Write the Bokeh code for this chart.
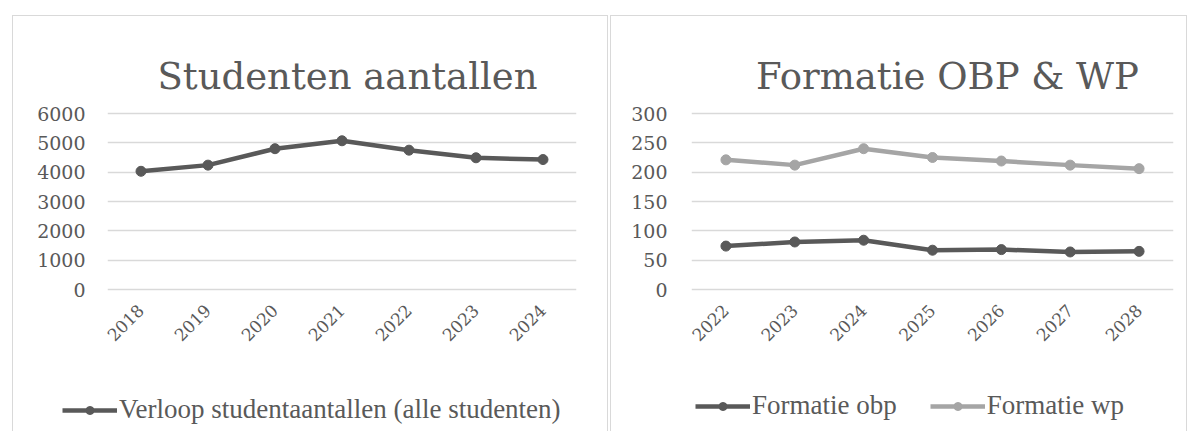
import math
from bokeh.plotting import figure
from bokeh.layouts import row, column
from bokeh.models import (Range1d, FactorRange, FixedTicker, Legend, LegendItem, Label)
from bokeh.embed import file_html
from bokeh.resources import INLINE

# ---- data ----
years_left = ["2018", "2019", "2020", "2021", "2022", "2023", "2024"]
studenten = [4030, 4240, 4800, 5070, 4750, 4490, 4430]
left_ticks = [0, 1000, 2000, 3000, 4000, 5000, 6000]

years_right = ["2022", "2023", "2024", "2025", "2026", "2027", "2028"]
formatie_obp = [74, 81, 84, 67, 68, 64, 65]
formatie_wp = [221, 212, 240, 225, 219, 212, 206]
right_ticks = [0, 50, 100, 150, 200, 250, 300]

DARK = "#595959"
LIGHT = "#a5a5a5"
GRID = "#d9d9d9"
TEXT = "#595959"
SERIF = "DejaVu Serif"
LEG_FONT = "Liberation Serif"

HEAD_H, MAIN_H, FOOT_H = 81, 262, 73


def blank_fig(width, height, y0=0):
    f = figure(width=width, height=height, x_range=Range1d(0, width),
               y_range=Range1d(y0, y0 + height), output_backend="svg",
               toolbar_location=None, x_axis_location=None, y_axis_location=None,
               min_border_left=0, min_border_right=0, min_border_top=0,
               min_border_bottom=0, frame_align=False)
    f.grid.visible = False
    f.outline_line_color = None
    return f


def head_fig(width, title, cx):
    h = blank_fig(width, HEAD_H)
    h.add_layout(Label(x=cx, y=21, text=title, text_align="center",
                       text_baseline="alphabetic", text_font=SERIF,
                       text_font_size="37px", text_color=TEXT))
    return h


def main_fig(width, factors, ymax, ticks, mb_left, mb_right, standoff):
    pad = ymax / 176 * 4
    p = figure(width=width, height=MAIN_H, x_range=FactorRange(*factors),
               y_range=Range1d(-pad, ymax + pad),
               output_backend="svg", toolbar_location=None,
               min_border_left=mb_left, min_border_right=mb_right,
               min_border_top=12, min_border_bottom=66, frame_align=False)
    p.outline_line_color = None
    p.xgrid.grid_line_color = None
    p.ygrid.grid_line_color = GRID
    p.ygrid.grid_line_width = 1.5
    p.yaxis.ticker = FixedTicker(ticks=ticks)
    for ax in (p.xaxis[0], p.yaxis[0]):
        ax.axis_line_color = None
        ax.major_tick_line_color = None
        ax.minor_tick_line_color = None
        ax.major_label_text_color = TEXT
        ax.major_label_text_font = SERIF
    p.yaxis.major_label_text_font_size = "19px"
    p.xaxis.major_label_text_font_size = "17px"
    p.xaxis.major_label_orientation = math.pi / 4
    p.xaxis.major_label_standoff = 8
    p.yaxis.major_label_standoff = standoff
    return p


def foot_fig(width, entries, lx, ly, spacing):
    # data range far below the series values, so the proxy renderers stay out of view
    f = blank_fig(width, FOOT_H, y0=-10000)
    items = []
    for label, color, vals in entries:
        xs = list(range(len(vals)))
        rl = f.line(xs, vals, line_color=color, line_width=4.5)
        rc = f.scatter(xs, vals, size=10, fill_color=color, line_color=color)
        items.append(LegendItem(label=label, renderers=[rl, rc]))
    leg = Legend(items=items, location=(lx, ly), orientation="horizontal",
                 glyph_width=55, glyph_height=20, label_standoff=2, spacing=spacing,
                 label_text_font=LEG_FONT, label_text_font_size="27px",
                 label_text_color=TEXT, padding=0, margin=0,
                 border_line_color=None, background_fill_alpha=0)
    f.add_layout(leg, "center")
    return f


BOX = {"border-top": f"1.5px solid {GRID}", "border-left": f"1.5px solid {GRID}",
       "border-right": f"1.5px solid {GRID}"}

# ---- left chart ----
W1 = 594
p1 = main_fig(W1, years_left, 6000, left_ticks, 94, 31, 16)
p1.line(years_left, studenten, line_color=DARK, line_width=4.5)
p1.scatter(years_left, studenten, size=10, fill_color=DARK, line_color=DARK)
c1 = column(head_fig(W1, "Studenten aantallen", 334), p1,
            foot_fig(W1, [("Verloop studentaantallen (alle studenten)", DARK, studenten)],
                     49, 7, 0),
            margin=(15, 0, 0, 12), styles=BOX)

# ---- right chart ----
W2 = 575
p2 = main_fig(W2, years_right, 300, right_ticks, 80, 13, 18)
p2.line(years_right, formatie_obp, line_color=DARK, line_width=4.5)
p2.scatter(years_right, formatie_obp, size=10, fill_color=DARK, line_color=DARK)
p2.line(years_right, formatie_wp, line_color=LIGHT, line_width=4.5)
p2.scatter(years_right, formatie_wp, size=10, fill_color=LIGHT, line_color=LIGHT)
c2 = column(head_fig(W2, "Formatie OBP & WP", 336), p2,
            foot_fig(W2, [("Formatie obp", DARK, formatie_obp),
                          ("Formatie wp", LIGHT, formatie_wp)], 84, 11, 33),
            margin=(15, 0, 0, 2), styles=BOX)

layout = row(c1, c2)
open("out.html", "w").write(file_html(layout, INLINE))
